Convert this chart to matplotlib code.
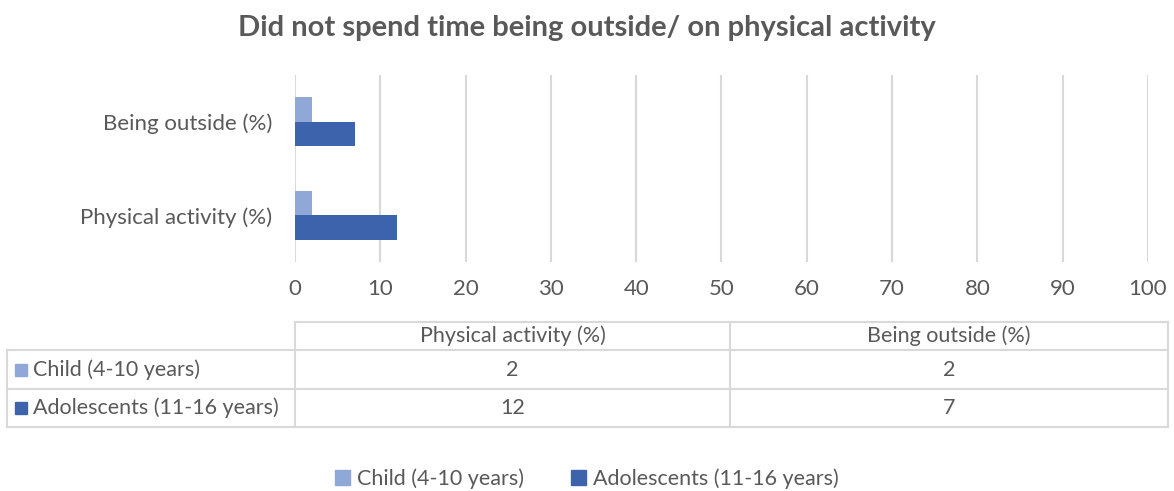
import matplotlib
matplotlib.use("Agg")
import numpy as np
import matplotlib.pyplot as plt
from matplotlib.patches import Patch, Rectangle
from matplotlib.lines import Line2D

plt.rcParams["font.family"] = ["Lato", "DejaVu Sans"]

categories = ["Physical activity (%)", "Being outside (%)"]
series_names = ["Child (4-10 years)", "Adolescents (11-16 years)"]
child = [2, 2]
adolescents = [12, 7]
xticks = list(range(0, 101, 10))

LIGHT = "#8FA8D8"
DARK = "#3E63AD"
GRID = "#D9D9D9"
TXT = "#595959"

W, H = 1174, 491
fig = plt.figure(figsize=(W / 100, H / 100), dpi=100)


def fx(px):
    return px / W


def fy(py):
    return 1 - py / H


ax = fig.add_axes([fx(295), fy(262), fx(1148) - fx(295), fy(75) - fy(262)])
y = np.arange(len(categories))
bh = 0.26
ax.barh(y + bh / 2, child, height=bh, color=LIGHT, label=series_names[0])
ax.barh(y - bh / 2, adolescents, height=bh, color=DARK, label=series_names[1])
ax.set_xlim(0, 100)
ax.set_ylim(-0.5, len(categories) - 0.5)
ax.set_xticks(xticks)
ax.set_xticklabels([str(t) for t in xticks])
ax.set_yticks(y)
ax.set_yticklabels(categories)
ax.tick_params(axis="x", length=0, pad=12, labelsize=16, labelcolor=TXT)
ax.tick_params(axis="y", length=0, pad=16.5, labelsize=16, labelcolor=TXT)
ax.grid(axis="x", color=GRID, linewidth=1.5)
ax.set_axisbelow(True)
for s in ax.spines.values():
    s.set_visible(False)

fig.text(0.5, fy(28), "Did not spend time being outside/ on physical activity",
         ha="center", va="center", fontsize=21, fontweight="bold", color=TXT)

# data table under the chart
col_x = [295, 730, 1168]
row_y = [322, 350, 389, 427]
left_x = 7


def hline(x0, x1, yy):
    fig.add_artist(Line2D([fx(x0), fx(x1)], [fy(yy), fy(yy)], color=GRID, lw=1.5))


def vline(xx, y0, y1):
    fig.add_artist(Line2D([fx(xx), fx(xx)], [fy(y0), fy(y1)], color=GRID, lw=1.5))


hline(col_x[0], col_x[-1], row_y[0])
for yy in row_y[1:]:
    hline(left_x, col_x[-1], yy)
for xx in col_x:
    vline(xx, row_y[0], row_y[-1])
vline(left_x, row_y[1], row_y[-1])

# headers follow the category order (bottom to top of the chart)
for i, cat in enumerate(categories):
    cx = (col_x[i] + col_x[i + 1]) / 2
    fig.text(fx(cx), fy((row_y[0] + row_y[1]) / 2), cat, ha="center",
             va="center", fontsize=15.5, color=TXT)

rows = [(series_names[0], child, LIGHT), (series_names[1], adolescents, DARK)]
for r, (name, vals, col) in enumerate(rows):
    yc = (row_y[r + 1] + row_y[r + 2]) / 2
    fig.add_artist(Rectangle((fx(15), fy(yc + 6)), fx(12), fy(yc - 6) - fy(yc + 6),
                             color=col, transform=fig.transFigure))
    fig.text(fx(33), fy(yc), name, ha="left", va="center", fontsize=15.5, color=TXT)
    for i, v in enumerate(vals):
        cx = (col_x[i] + col_x[i + 1]) / 2
        fig.text(fx(cx), fy(yc), str(v), ha="center", va="center",
                 fontsize=15.5, color=TXT)

handles = [Patch(color=LIGHT, label=series_names[0]),
           Patch(color=DARK, label=series_names[1])]
fig.legend(handles=handles, loc="center", bbox_to_anchor=(0.5, fy(479)), ncol=2,
           frameon=False, fontsize=15.5, labelcolor=TXT, handlelength=0.7,
           handleheight=0.7, handletextpad=0.3, columnspacing=2.2)

fig.savefig("out.png", dpi=100)
